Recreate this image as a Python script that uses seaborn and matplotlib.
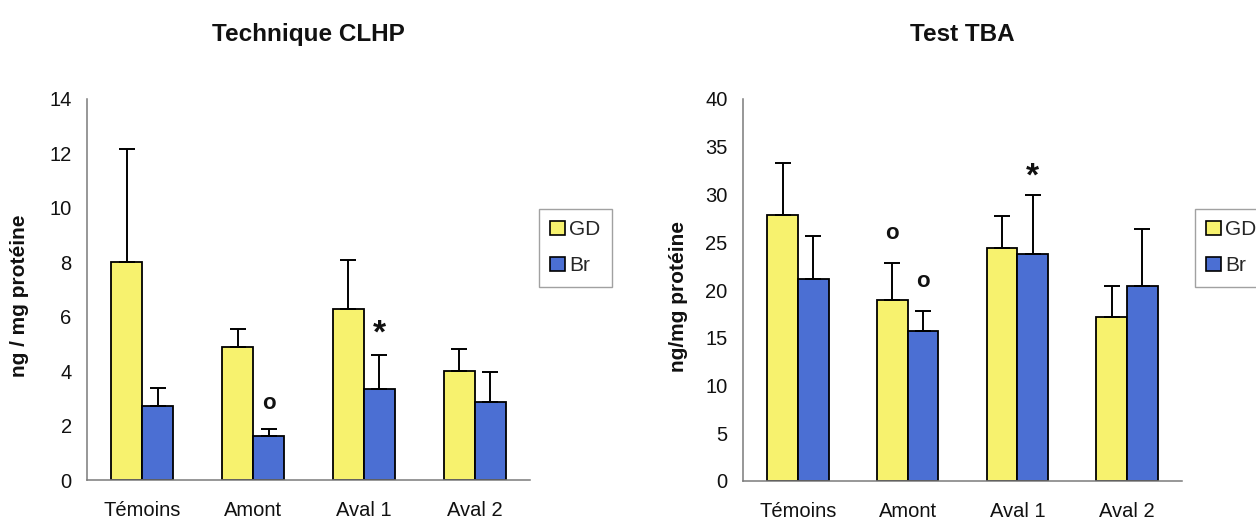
import numpy as np
import pandas as pd
import matplotlib
matplotlib.use("Agg")
import matplotlib.pyplot as plt
from matplotlib.patches import Patch
import seaborn as sns

# ---- data -------------------------------------------------------------
sites = ["Témoins", "Amont", "Aval 1", "Aval 2"]
groups = ["GD", "Br"]

# HPLC (CLHP) results, ng / mg protein
clhp_gd = [8.0, 4.9, 6.3, 4.0]
clhp_gd_top = [12.15, 5.55, 8.1, 4.8]
clhp_br = [2.72, 1.6, 3.35, 2.88]
clhp_br_top = [3.38, 1.88, 4.6, 3.98]

# TBA test results, ng / mg protein
tba_gd = [27.9, 19.0, 24.4, 17.2]
tba_gd_top = [33.3, 22.8, 27.8, 20.4]
tba_br = [21.2, 15.7, 23.8, 20.4]
tba_br_top = [25.7, 17.85, 29.9, 26.4]

# significance marks: (site, group, y position, symbol)
clhp_marks = [("Amont", "Br", 2.8, "o"), ("Aval 1", "Br", 5.35, "*")]
tba_marks = [("Amont", "GD", 25.9, "o"), ("Amont", "Br", 20.9, "o"),
             ("Aval 1", "Br", 31.8, "*")]

YELLOW = "#F7F26E"
BLUE = "#4B6FD3"
AXIS_GREY = "#7a7a7a"

sns.set_theme(style="white")
plt.rcParams["font.family"] = ["Liberation Sans", "DejaVu Sans"]


def long_frame(gd, gd_top, br, br_top):
    return pd.DataFrame({
        "site": sites * 2,
        "groupe": ["GD"] * 4 + ["Br"] * 4,
        "val": list(gd) + list(br),
        "top": list(gd_top) + list(br_top),
    })


def draw(ax, df, marks, ymax, ystep, title):
    sns.barplot(data=df, x="site", y="val", hue="groupe", order=sites,
                hue_order=groups, palette=[YELLOW, BLUE], width=0.56,
                edgecolor="black", linewidth=1.3, errorbar=None,
                legend=False, ax=ax, saturation=1)
    centers = {}
    for g, cont in zip(groups, ax.containers):
        sub = df[df.groupe == g].set_index("site").loc[sites]
        for s, bar, v, t in zip(sites, cont.patches, sub.val, sub.top):
            xc = bar.get_x() + bar.get_width() / 2
            centers[(s, g)] = xc
            ax.errorbar(xc, v, yerr=[[0], [t - v]], fmt="none",
                        ecolor="black", elinewidth=1.4, capsize=5.5,
                        capthick=1.4, zorder=1)
    for s, g, y, sym in marks:
        if sym == "*":
            ax.text(centers[(s, g)], y, sym, ha="center", va="center",
                    fontsize=24, fontweight="bold", color="#111")
        else:
            ax.text(centers[(s, g)], y, sym, ha="center", va="center",
                    fontsize=16, fontweight="bold", color="#111")

    ax.set_xlim(-0.5, 3.5)
    ax.set_ylim(0, ymax)
    ax.set_yticks(np.arange(0, ymax + 0.01, ystep))
    ax.set_xlabel("")
    ax.set_ylabel("")
    ax.set_xticks(range(len(sites)))
    ax.set_xticklabels(sites)
    ax.set_xticks([0.5, 1.5, 2.5, 3.5], minor=True)
    ax.tick_params(axis="x", which="major", length=0, pad=15,
                   labelsize=14.5, labelcolor="#111")
    ax.tick_params(axis="x", which="minor", direction="inout", length=10,
                   color=AXIS_GREY, width=1)
    ax.tick_params(axis="y", direction="inout", length=10, width=1,
                   color=AXIS_GREY, pad=6, labelsize=14.5, labelcolor="#111")
    for side in ("top", "right"):
        ax.spines[side].set_visible(False)
    for side in ("left", "bottom"):
        ax.spines[side].set_color(AXIS_GREY)
        ax.spines[side].set_linewidth(1.1)
    ax.set_title(title, fontsize=17.5, fontweight="bold", pad=42, color="#111")


fig = plt.figure(figsize=(12.56, 5.25), dpi=100)
ax1 = fig.add_axes([87 / 1256, 45 / 525, 443 / 1256, 381 / 525])
ax2 = fig.add_axes([743 / 1256, 44 / 525, 439 / 1256, 382 / 525])

draw(ax1, long_frame(clhp_gd, clhp_gd_top, clhp_br, clhp_br_top),
     clhp_marks, 14, 2, "Technique CLHP")
draw(ax2, long_frame(tba_gd, tba_gd_top, tba_br, tba_br_top),
     tba_marks, 40, 5, "Test TBA")

fig.text(20 / 1256, 1 - 296 / 525, "ng / mg protéine", rotation=90,
         ha="center", va="center", fontsize=15, fontweight="bold", color="#111")
fig.text(679 / 1256, 1 - 297 / 525, "ng/mg protéine", rotation=90,
         ha="center", va="center", fontsize=15, fontweight="bold", color="#111")

handles = [Patch(facecolor=YELLOW, edgecolor="black", linewidth=1.2),
           Patch(facecolor=BLUE, edgecolor="black", linewidth=1.2)]
for x0 in (539 / 1256, 1195 / 1256):
    leg = fig.legend(handles, groups, loc="upper left",
                     bbox_to_anchor=(x0, 1 - 209 / 525),
                     bbox_transform=fig.transFigure, fontsize=15,
                     handlelength=0.7, handleheight=0.7, handletextpad=0.2,
                     labelspacing=0.8, borderpad=0.55, borderaxespad=0,
                     fancybox=False, frameon=True)
    leg.get_frame().set_edgecolor("#8a8a8a")
    leg.get_frame().set_linewidth(1.0)

fig.savefig("out.png", dpi=100)
